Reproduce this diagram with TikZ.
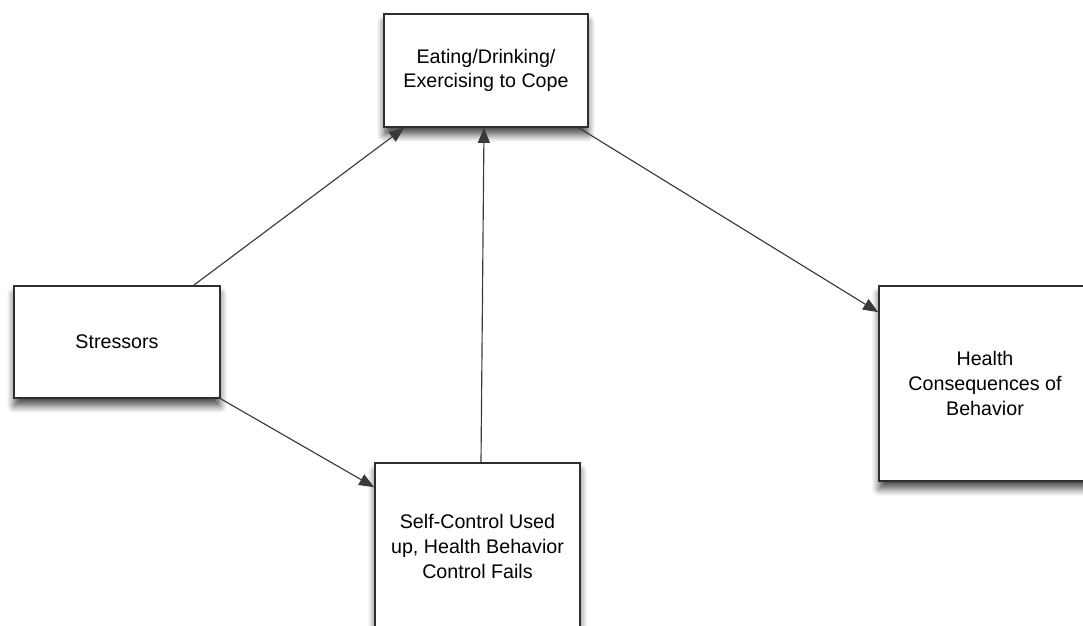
\documentclass[tikz,border=0pt]{standalone}
\usepackage{fontspec}
\setmainfont{Liberation Sans}
\usetikzlibrary{arrows.meta,shadows.blur}
\definecolor{edgegray}{HTML}{2E2E2E}
\definecolor{linegray}{HTML}{3A3A3A}

\begin{document}
\begin{tikzpicture}[
  x=0.02cm, y=-0.02cm,
  font=\fontsize{11.2}{14}\selectfont,
  box/.style={draw=edgegray, line width=1pt, fill=white, align=center,
              inner sep=0pt,
              blur shadow={shadow xshift=0pt, shadow yshift=-4.5pt,
                           shadow blur radius=4pt, shadow blur extra rounding=0pt,
                           shadow blur steps=8, shadow opacity=70}},
  ar/.style={-{Triangle[length=3mm,width=2.4mm]}, draw=linegray, line width=0.65pt}
]
\clip (0,0) rectangle (1083,626);
\node[box, minimum width=4.08cm, minimum height=2.26cm] (eat) at (486,70.5)
  {Eating/Drinking/\\Exercising to Cope};
\node[box, minimum width=4.12cm, minimum height=2.24cm] (stress) at (117,342)
  {Stressors};
\node[box, minimum width=4.1cm, minimum height=3.34cm] (self) at (477.5,546.5)
  {Self-Control Used\\up, Health Behavior\\Control Fails};
\node[box, minimum width=4.24cm, minimum height=3.9cm] (health) at (985,383.5)
  {Health\\Consequences of\\Behavior};
\draw[ar] ([xshift=-0.54cm]stress.north east) -- ([xshift=0.42cm]eat.south west);
\draw[ar] (stress.south east) -- ([yshift=-0.5cm]self.north west);
\draw[ar] ([xshift=0.07cm]self.north) -- ([xshift=-0.04cm]eat.south);
\draw[ar] ([xshift=-0.2cm]eat.south east) -- ([yshift=-0.54cm]health.north west);
\end{tikzpicture}
\end{document}
